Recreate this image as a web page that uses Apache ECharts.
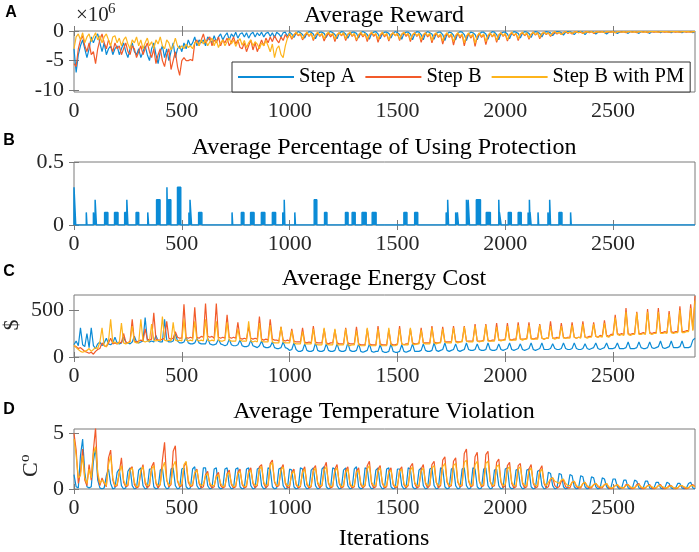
<!DOCTYPE html>
<html>
<head>
<meta charset="utf-8">
<script src="https://cdn.jsdelivr.net/npm/echarts@6/dist/echarts.min.js"></script>
<style>
  html, body { margin: 0; padding: 0; background: #fff; }
  #chart { width: 699px; height: 552px; }
</style>
</head>
<body>
<div id="chart"></div>
<script>
// sampled every 10 iterations, 0..2880
const STEP = 10;
const xTicks = [0, 500, 1000, 1500, 2000, 2500];
const seriesNames = ["Step A", "Step B", "Step B with PM"];
const seriesColors = ["#0b8bd6", "#f25a2a", "#fdb41c"];

// A: average reward (x10^6)
const rewardA = [
  -3, -7, -4, -2.5, -1.5, -3, -4.5, -3, -1, -2,
  -1, -0.5, -2, -3.5, -2, -4, -3, -2.5, -4, -3,
  -2.5, -4, -3, -2, -3.5, -4.5, -3, -2, -3.5, -4,
  -3, -4.5, -3.5, -2.5, -4, -5, -3, -2, -4, -5.5,
  -3.5, -2.5, -4.5, -3, -5, -3.5, -2, -4.5, -3, -2.5,
  -3.5, -2, -3, -1.5, -2.5, -2, -1, -2.5, -1.5, -2,
  -1.5, -2.5, -1, -1.5, -2, -0.8, -1.8, -1, -0.5, -1.5,
  -0.8, -0.3, -1.5, -0.5, -1, -0.2, -1.2, -0.5, -0.3, -1,
  -0.3, -1.2, -0.5, -0.2, -1, -0.3, -0.8, -0.2, -1, -0.4,
  -0.2, -0.9, -0.3, -1.1, -0.2, -0.5, -1, -0.3, -0.2, -0.9,
  -0.2, -0.5, -1.1, -0.4, -0.1, -0.3, -0.6, -1.2, -0.4, -0.1,
  -0.2, -0.5, -1.3, -0.5, -0.2, -0.2, -0.4, -1.1, -0.3, -0.1,
  -0.3, -0.6, -1.3, -0.4, -0.1, -0.2, -0.5, -1.2, -0.5, -0.2,
  -0.2, -0.4, -1.2, -0.3, -0.1, -0.3, -0.6, -1.4, -0.4, -0.2,
  -0.1, -0.5, -1.3, -0.5, -0.2, -0.2, -0.4, -1.2, -0.4, -0.1,
  -0.3, -0.6, -1.4, -0.4, -0.2, -0.2, -0.5, -1.5, -0.5, -0.1,
  -0.2, -0.6, -1.5, -0.4, -0.1, -0.3, -0.5, -1.4, -0.4, -0.2,
  -0.2, -0.6, -1.6, -0.5, -0.2, -0.3, -0.7, -1.5, -0.4, -0.1,
  -0.2, -0.6, -1.6, -0.5, -0.2, -0.3, -0.6, -1.5, -0.5, -0.2,
  -0.2, -0.5, -1.4, -0.4, -0.1, -0.2, -0.6, -1.5, -0.4, -0.2,
  -0.2, -0.5, -1.3, -0.4, -0.1, -0.2, -0.4, -1.2, -0.4, -0.1,
  -0.2, -0.4, -1.1, -0.3, -0.1, -0.2, -0.4, -1, -0.3, -0.1,
  -0.2, -0.3, -0.8, -0.3, -0.1, -0.1, -0.3, -0.7, -0.2, -0.1,
  -0.1, -0.3, -0.6, -0.2, -0.1, -0.1, -0.2, -0.6, -0.2, -0.1,
  -0.1, -0.2, -0.5, -0.2, -0.1, -0.1, -0.2, -0.5, -0.2, -0.1,
  -0.1, -0.2, -0.4, -0.2, -0.1, -0.1, -0.2, -0.4, -0.1, -0.1,
  -0.1, -0.2, -0.4, -0.1, -0.1, -0.1, -0.2, -0.4, -0.1, -0.1,
  -0.1, -0.1, -0.3, -0.1, -0.1, -0.1, -0.2, -0.3, -0.1, -0.1,
  -0.1, -0.2, -0.3, -0.1, -0.1, -0.1, -0.1, -0.3, -0.1
];
const rewardB = [
  -5.5, -6, -3, -1.5, -0.8, -2.5, -3.5, -2, -4, -3.5,
  -5.5, -3, -1.5, -0.5, -2, -3, -1.5, -2.5, -3.5, -2,
  -3, -2.5, -4, -3, -2, -3.5, -4, -2.5, -3, -4.5,
  -3.5, -2.5, -4, -3, -2, -3.5, -4.5, -3, -5.5, -4,
  -3, -5, -6, -4, -3, -6.5, -5, -3.5, -6, -7.5,
  -5, -4.5, -5, -5, -4.8, -5, -2, -1.5, -2.5, -1.5,
  -0.5, -2, -1.5, -1, -2.5, -1.5, -2, -1, -2.5, -1.5,
  -2, -1.2, -2.5, -1.8, -1, -2.2, -1.5, -2.8, -3, -2,
  -3.5, -2.5, -1.5, -3.2, -2, -3.5, -2.5, -1.5, -2.5, -1.2,
  -2, -1, -1.8, -0.8, -1.5, -2, -1, -1.6, -0.6, -1.2,
  -0.5, -1.4, -0.7, -0.3, -0.8, -0.5, -1.5, -0.8, -0.3, -0.9,
  -0.4, -1.6, -0.7, -0.3, -0.9, -0.5, -1.7, -0.8, -0.4, -1,
  -0.5, -1.8, -0.7, -0.3, -0.8, -0.4, -1.6, -0.6, -0.3, -0.9,
  -0.5, -1.7, -0.8, -0.4, -1, -0.5, -1.8, -0.7, -0.3, -0.9,
  -0.5, -1.9, -0.8, -0.3, -1, -0.5, -1.7, -0.7, -0.3, -0.8,
  -0.4, -1.6, -0.6, -0.3, -0.9, -0.5, -1.8, -0.7, -0.3, -0.9,
  -0.5, -1.9, -0.8, -0.3, -1, -0.5, -2, -0.8, -0.4, -1.1,
  -0.6, -2.2, -0.9, -0.4, -1.1, -0.6, -2.4, -0.9, -0.4, -1.2,
  -0.6, -2.5, -1, -0.4, -1.2, -0.6, -2.6, -1, -0.4, -1.1,
  -0.6, -2.3, -0.9, -0.4, -1, -0.5, -1.9, -0.8, -0.3, -0.9,
  -0.5, -1.7, -0.7, -0.3, -0.8, -0.4, -1.6, -0.6, -0.3, -0.8,
  -0.4, -1.4, -0.6, -0.2, -0.7, -0.3, -1.3, -0.5, -0.2, -0.6,
  -0.3, -0.9, -0.4, -0.2, -0.5, -0.2, -0.6, -0.3, -0.1, -0.4,
  -0.2, -0.5, -0.2, -0.1, -0.3, -0.2, -0.4, -0.2, -0.1, -0.3,
  -0.1, -0.4, -0.2, -0.1, -0.2, -0.1, -0.3, -0.2, -0.1, -0.2,
  -0.1, -0.3, -0.1, -0.1, -0.2, -0.1, -0.3, -0.1, -0.1, -0.2,
  -0.1, -0.3, -0.1, -0.1, -0.2, -0.1, -0.3, -0.1, -0.1, -0.2,
  -0.1, -0.2, -0.1, -0.1, -0.2, -0.1, -0.2, -0.1, -0.1, -0.2,
  -0.1, -0.2, -0.1, -0.1, -0.2, -0.1, -0.2, -0.1, -0.1
];
const rewardPM = [
  -3, -1, -0.5, -1.5, -0.3, -2, -1, -0.5, -1.8, -1,
  -0.3, -1.5, -0.8, -2, -1, -0.5, -1.5, -2.5, -1, -0.8,
  -2, -1.2, -2.5, -1.5, -1, -2.2, -3, -1.5, -2, -1,
  -2.5, -1.5, -3, -2, -1.2, -2.5, -1.8, -3, -1.5, -2.2,
  -1, -2.5, -3, -1.5, -2, -3.2, -2.5, -1.2, -2.5, -3,
  -2.5, -3, -2.2, -2.8, -2.5, -3, -2, -1.8, -2.5, -1.5,
  -2.2, -1.5, -2.5, -1.8, -1.2, -2.5, -1.5, -2.8, -2, -1.5,
  -2.5, -1.8, -1.2, -2.2, -1.5, -2.6, -1.8, -1.3, -2.4, -1.6,
  -2.8, -2, -1.5, -2.5, -1.8, -2.2, -3, -2, -2.5, -1.6,
  -2.5, -3.5, -2.2, -4.5, -3, -2.5, -4, -4.5, -2.5, -1.2,
  -0.4, -1.2, -0.6, -0.2, -0.7, -0.4, -1.3, -0.6, -0.2, -0.8,
  -0.4, -1.4, -0.6, -0.2, -0.8, -0.4, -1.3, -0.5, -0.2, -0.7,
  -0.4, -1.4, -0.6, -0.3, -0.7, -0.3, -1.3, -0.5, -0.2, -0.8,
  -0.4, -1.5, -0.6, -0.2, -0.8, -0.4, -1.4, -0.6, -0.2, -0.7,
  -0.4, -1.4, -0.6, -0.2, -0.8, -0.4, -1.5, -0.6, -0.3, -0.8,
  -0.4, -1.4, -0.5, -0.2, -0.7, -0.4, -1.5, -0.6, -0.3, -0.8,
  -0.4, -1.5, -0.6, -0.3, -0.8, -0.4, -1.6, -0.6, -0.3, -0.9,
  -0.5, -1.7, -0.7, -0.3, -0.9, -0.5, -1.8, -0.7, -0.3, -0.9,
  -0.5, -2, -0.8, -0.3, -1, -0.5, -2.1, -0.8, -0.3, -0.9,
  -0.5, -1.8, -0.7, -0.3, -0.9, -0.4, -1.6, -0.6, -0.3, -0.8,
  -0.4, -1.5, -0.6, -0.2, -0.7, -0.4, -1.3, -0.5, -0.2, -0.7,
  -0.3, -1.2, -0.5, -0.2, -0.6, -0.3, -1.1, -0.4, -0.2, -0.5,
  -0.3, -0.8, -0.3, -0.1, -0.4, -0.2, -0.6, -0.3, -0.1, -0.3,
  -0.2, -0.4, -0.2, -0.1, -0.3, -0.1, -0.4, -0.2, -0.1, -0.2,
  -0.1, -0.3, -0.2, -0.1, -0.2, -0.1, -0.3, -0.1, -0.1, -0.2,
  -0.1, -0.3, -0.1, -0.1, -0.2, -0.1, -0.2, -0.1, -0.1, -0.2,
  -0.1, -0.2, -0.1, -0.1, -0.2, -0.1, -0.2, -0.1, -0.1, -0.1,
  -0.1, -0.2, -0.1, -0.1, -0.1, -0.1, -0.2, -0.1, -0.1, -0.1,
  -0.1, -0.2, -0.1, -0.1, -0.1, -0.1, -0.2, -0.1, -0.1
];

// B: protection use (Step A only), pulses [start, end, height]
const protStart = [0, 57, 90, 98, 142, 188, 235, 245, 288, 342, 383, 431, 438, 480, 533, 538, 578,
  733, 776, 819, 869, 920, 968, 975, 1024, 1114, 1162, 1259, 1290, 1336, 1383, 1530, 1580,
  1726, 1733, 1770, 1778, 1820, 1828, 1866, 1912, 1970, 1973, 2014, 2060, 2106, 2112, 2115,
  2152, 2198, 2206, 2249, 2303];
const protEnd = [8, 60, 98, 104, 157, 204, 245, 250, 300, 346, 399, 434, 449, 495, 538, 545, 593,
  736, 788, 835, 885, 935, 975, 978, 1027, 1126, 1173, 1271, 1304, 1355, 1401, 1544, 1594,
  1733, 1737, 1774, 1783, 1826, 1834, 1885, 1931, 1973, 1981, 2028, 2074, 2112, 2115, 2120,
  2155, 2206, 2210, 2263, 2306];
const protHeight = [0.3, 0.1, 0.1, 0.2, 0.1, 0.1, 0.1, 0.2, 0.1, 0.1, 0.2, 0.3, 0.2, 0.3, 0.1, 0.2, 0.1,
  0.1, 0.1, 0.1, 0.1, 0.1, 0.1, 0.2, 0.1, 0.2, 0.1, 0.1, 0.1, 0.1, 0.1, 0.1, 0.1,
  0.1, 0.2, 0.1, 0.1, 0.2, 0.2, 0.2, 0.1, 0.2, 0.1, 0.1, 0.1, 0.1, 0.2, 0.1,
  0.1, 0.1, 0.2, 0.1, 0.1];

// C: average energy cost ($)
const costA = [
  130, 170, 120, 310, 130, 110, 250, 100, 310, 120,
  90, 140, 160, 120, 150, 200, 140, 130, 150, 210,
  150, 140, 150, 210, 160, 150, 140, 160, 220, 160,
  150, 160, 170, 420, 180, 160, 170, 160, 230, 170,
  160, 160, 400, 180, 160, 160, 170, 250, 170, 150,
  150, 160, 210, 150, 140, 140, 150, 200, 150, 140,
  140, 140, 200, 140, 130, 130, 140, 190, 140, 130,
  120, 130, 190, 130, 120, 120, 130, 180, 120, 110,
  110, 120, 180, 120, 110, 100, 120, 170, 110, 100,
  100, 110, 160, 100, 90, 90, 100, 160, 100, 90,
  70, 80, 150, 80, 60, 60, 70, 140, 70, 60,
  60, 70, 150, 70, 60, 60, 70, 140, 70, 60,
  60, 70, 140, 70, 60, 60, 70, 150, 70, 60,
  60, 70, 140, 60, 50, 60, 70, 140, 60, 50,
  60, 60, 130, 60, 50, 50, 60, 140, 60, 50,
  50, 60, 130, 60, 50, 60, 70, 140, 60, 60,
  60, 70, 140, 70, 60, 60, 70, 150, 70, 60,
  70, 80, 150, 70, 60, 70, 80, 140, 70, 60,
  70, 80, 150, 80, 70, 70, 80, 140, 80, 70,
  70, 80, 150, 80, 70, 70, 80, 140, 80, 70,
  80, 90, 150, 80, 70, 80, 90, 140, 80, 70,
  80, 90, 150, 80, 70, 80, 90, 150, 80, 80,
  80, 90, 140, 90, 80, 80, 90, 150, 90, 80,
  80, 90, 150, 90, 80, 80, 90, 140, 90, 80,
  90, 100, 150, 90, 80, 90, 100, 150, 90, 90,
  90, 100, 150, 90, 90, 90, 100, 160, 90, 90,
  90, 100, 160, 100, 90, 90, 100, 160, 100, 90,
  100, 110, 170, 100, 90, 100, 110, 170, 100, 100,
  100, 110, 170, 100, 100, 100, 110, 180, 200
];
const costB = [
  120, 110, 90, 100, 80, 60, 50, 40, 50, 30,
  60, 80, 90, 150, 120, 110, 150, 200, 140, 150,
  140, 160, 150, 250, 160, 150, 170, 400, 170, 160,
  170, 180, 170, 300, 190, 180, 190, 470, 190, 180,
  180, 190, 200, 380, 200, 190, 200, 270, 210, 200,
  200, 560, 210, 200, 210, 200, 530, 210, 200, 220,
  210, 570, 220, 210, 220, 200, 570, 210, 200, 210,
  200, 450, 210, 200, 210, 200, 370, 200, 190, 200,
  190, 320, 200, 190, 200, 190, 430, 190, 180, 190,
  180, 400, 190, 180, 180, 170, 320, 180, 170, 180,
  170, 300, 170, 160, 160, 160, 310, 160, 150, 160,
  150, 330, 160, 150, 150, 150, 300, 150, 140, 150,
  150, 290, 150, 140, 140, 140, 310, 150, 140, 140,
  140, 320, 140, 130, 130, 130, 300, 140, 130, 130,
  130, 330, 140, 130, 130, 130, 290, 140, 130, 130,
  140, 330, 140, 130, 140, 140, 300, 150, 140, 140,
  150, 310, 150, 150, 150, 150, 330, 160, 150, 150,
  160, 320, 160, 160, 160, 160, 330, 170, 160, 160,
  170, 330, 170, 170, 170, 170, 350, 170, 170, 170,
  180, 350, 180, 170, 180, 180, 360, 180, 180, 180,
  190, 360, 190, 180, 190, 190, 370, 190, 190, 190,
  200, 370, 200, 190, 200, 200, 350, 200, 190, 200,
  200, 380, 200, 200, 210, 200, 360, 210, 200, 210,
  210, 370, 210, 200, 210, 210, 380, 210, 210, 220,
  220, 370, 220, 210, 230, 220, 390, 230, 220, 240,
  240, 450, 250, 240, 250, 240, 520, 250, 240, 250,
  250, 480, 250, 250, 260, 250, 510, 260, 250, 260,
  260, 520, 260, 260, 270, 260, 490, 270, 260, 270,
  270, 540, 270, 270, 280, 280, 560, 290, 650
];
const costPM = [
  130, 100, 80, 60, 50, 60, 70, 90, 60, 80,
  100, 90, 160, 310, 120, 110, 170, 400, 150, 160,
  140, 150, 360, 150, 140, 150, 160, 330, 160, 150,
  150, 400, 170, 160, 170, 170, 350, 180, 170, 180,
  170, 430, 180, 170, 180, 170, 370, 180, 170, 180,
  170, 400, 180, 170, 180, 170, 380, 180, 170, 180,
  170, 400, 180, 170, 180, 170, 380, 180, 170, 170,
  180, 370, 180, 170, 170, 170, 300, 180, 170, 170,
  170, 380, 170, 160, 170, 160, 360, 170, 160, 160,
  160, 340, 160, 150, 150, 150, 320, 160, 150, 150,
  150, 280, 150, 140, 140, 140, 270, 140, 140, 140,
  140, 300, 140, 130, 130, 130, 310, 140, 130, 130,
  130, 300, 130, 130, 130, 130, 300, 130, 120, 130,
  130, 280, 130, 120, 120, 120, 310, 130, 120, 120,
  120, 300, 130, 120, 120, 120, 310, 130, 120, 120,
  130, 300, 140, 130, 130, 130, 310, 140, 130, 140,
  140, 290, 150, 140, 140, 140, 310, 150, 140, 150,
  150, 300, 160, 150, 150, 150, 310, 160, 150, 160,
  160, 320, 170, 160, 160, 160, 330, 170, 160, 170,
  170, 340, 170, 170, 170, 170, 320, 180, 170, 180,
  180, 330, 180, 180, 180, 180, 340, 190, 180, 190,
  190, 340, 190, 190, 190, 190, 340, 200, 190, 200,
  200, 330, 200, 190, 200, 200, 330, 200, 200, 200,
  200, 340, 210, 200, 210, 200, 350, 210, 200, 210,
  210, 350, 220, 210, 220, 210, 360, 220, 210, 230,
  230, 420, 240, 230, 240, 230, 480, 240, 230, 240,
  240, 470, 240, 240, 250, 240, 480, 250, 240, 250,
  250, 480, 250, 250, 260, 250, 460, 260, 250, 260,
  260, 500, 260, 260, 270, 270, 520, 280, 600
];

// D: average temperature violation (C°)
const violA = [
  1.3, 0.2, 0.1, 3, 4.5, 1.5, 0.2, 0.1, 0.2, 2.5,
  3.7, 0.8, 0.1, 0, 0.1, 1.2, 1.8, 0.5, 0, 0.1,
  1.5, 1.8, 0.3, 0, 0.1, 1.6, 1.9, 0.3, 0, 0.1,
  1.7, 1.9, 0.3, 0, 0.1, 1.8, 1.8, 0.2, 0, 0.1,
  1.7, 1.9, 0.3, 0, 0.1, 1.8, 1.9, 0.3, 0, 0.1,
  1.8, 1.9, 0.2, 0, 0.1, 1.8, 2, 0.3, 0, 0.1,
  1.9, 1.9, 0.3, 0, 0.1, 1.8, 1.9, 0.2, 0, 0.1,
  1.8, 1.9, 0.3, 0, 0.1, 1.8, 1.9, 0.2, 0, 0.1,
  1.8, 1.9, 0.3, 0, 0.1, 1.8, 1.9, 0.3, 0, 0.1,
  1.9, 1.8, 0.2, 0, 0.1, 1.8, 1.9, 0.3, 0, 0.1,
  1.8, 1.7, 0.2, 0, 0.1, 1.9, 1.8, 0.3, 0, 0.1,
  1.7, 1.9, 0.3, 0, 0.1, 1.8, 2, 0.2, 0, 0.1,
  1.9, 1.8, 0.3, 0, 0.1, 1.7, 1.9, 0.3, 0, 0.1,
  1.8, 2, 0.2, 0, 0.1, 1.9, 1.8, 0.3, 0, 0.1,
  1.7, 1.9, 0.3, 0, 0.1, 1.8, 1.9, 0.2, 0, 0.1,
  1.8, 1.8, 0.3, 0, 0.1, 1.9, 1.8, 0.2, 0, 0.1,
  1.7, 1.9, 0.3, 0, 0.1, 1.8, 1.9, 0.3, 0, 0.1,
  1.9, 1.8, 0.2, 0, 0.1, 1.8, 1.9, 0.3, 0, 0.1,
  1.8, 1.9, 0.3, 0, 0.1, 1.9, 1.8, 0.2, 0, 0.1,
  1.8, 1.9, 0.3, 0, 0.1, 1.7, 1.8, 0.3, 0, 0.1,
  1.8, 1.9, 0.2, 0, 0.1, 1.7, 1.8, 0.3, 0, 0.1,
  1.7, 1.8, 0.2, 0, 0.1, 1.6, 1.7, 0.3, 0, 0.1,
  1.5, 1.4, 0.3, 0, 0.1, 1.4, 1.3, 0.2, 0, 0.1,
  1.3, 1.2, 0.2, 0, 0.1, 1.2, 1.1, 0.2, 0, 0.1,
  1.1, 1, 0.2, 0, 0.1, 1, 0.9, 0.2, 0, 0.1,
  0.9, 0.9, 0.2, 0, 0.1, 0.8, 0.8, 0.1, 0, 0.1,
  0.8, 0.7, 0.1, 0, 0.1, 0.7, 0.7, 0.1, 0, 0.1,
  0.6, 0.6, 0.1, 0, 0.1, 0.6, 0.5, 0.1, 0, 0.1,
  0.5, 0.5, 0.1, 0, 0.1, 0.5, 0.6, 0.1, 0
];
const violB = [
  5, 3.5, 0.5, 1.5, 3.6, 0.8, 0.3, 2.2, 0.8, 3.5,
  5.5, 1.2, 0.3, 1, 0.5, 0.2, 2.8, 3.5, 0.8, 0.2,
  0.3, 1.5, 2.8, 0.6, 0.2, 0.3, 1.8, 2, 0.4, 0.1,
  0.2, 1.5, 2.2, 0.5, 0.1, 0.3, 2, 2.4, 0.5, 0.1,
  0.4, 2.6, 4.2, 0.8, 0.2, 0.4, 3.4, 3.9, 0.7, 0.2,
  0.3, 2, 2.4, 0.6, 0.2, 0.3, 1.4, 1.8, 0.5, 0.1,
  0.2, 1.3, 1.6, 0.4, 0.1, 0.2, 1.2, 1.5, 0.3, 0.1,
  0.2, 1.4, 1.7, 0.4, 0.1, 0.2, 1.5, 1.8, 0.4, 0.1,
  0.2, 1.6, 1.9, 0.5, 0.1, 0.3, 2, 2.2, 0.5, 0.1,
  0.3, 2.3, 2.6, 0.6, 0.2, 0.3, 1.8, 2.2, 0.5, 0.1,
  0.2, 1.5, 1.8, 0.4, 0.1, 0.2, 1.6, 2, 0.4, 0.1,
  0.2, 1.8, 2.1, 0.5, 0.1, 0.3, 1.9, 2.4, 0.5, 0.1,
  0.2, 1.8, 2.2, 0.5, 0.1, 0.2, 1.7, 2, 0.4, 0.1,
  0.2, 1.6, 1.9, 0.4, 0.1, 0.3, 2.1, 2.5, 0.5, 0.1,
  0.2, 1.8, 2.1, 0.5, 0.1, 0.2, 1.6, 1.9, 0.4, 0.1,
  0.2, 1.7, 2, 0.4, 0.1, 0.3, 2, 2.3, 0.5, 0.1,
  0.2, 1.8, 2.2, 0.5, 0.1, 0.3, 2.2, 2.5, 0.6, 0.1,
  0.3, 2.6, 2.9, 0.6, 0.2, 0.3, 2.5, 2.8, 0.6, 0.2,
  0.3, 3.2, 3.6, 0.7, 0.2, 0.3, 2.9, 3.3, 0.7, 0.2,
  0.3, 3.1, 3.4, 0.7, 0.2, 0.3, 2.4, 2.7, 0.6, 0.1,
  0.3, 2.1, 2.4, 0.5, 0.1, 0.2, 2.1, 2.3, 0.5, 0.1,
  0.2, 1.8, 2.2, 0.5, 0.1, 0.2, 1.7, 2.1, 0.5, 0.1,
  0.2, 0.9, 1, 0.3, 0.1, 0.2, 0.7, 0.8, 0.2, 0.1,
  0.1, 0.6, 0.7, 0.2, 0.1, 0.1, 0.5, 0.6, 0.2, 0.1,
  0.1, 0.4, 0.5, 0.2, 0.1, 0.1, 0.4, 0.5, 0.1, 0,
  0.1, 0.3, 0.4, 0.1, 0.1, 0.1, 0.4, 0.4, 0.1, 0,
  0.1, 0.4, 0.5, 0.1, 0, 0.1, 0.3, 0.4, 0.1, 0,
  0.1, 0.3, 0.4, 0.1, 0, 0.1, 0.3, 0.3, 0.1, 0,
  0.1, 0.3, 0.3, 0.1, 0, 0.1, 0.3, 0.4, 0.2
];
const violPM = [
  4.5, 3, 1, 1.2, 3, 1, 0.5, 1.8, 1, 3.2,
  3.8, 1.5, 0.5, 0.8, 0.6, 0.3, 2.2, 3, 1, 0.3,
  0.4, 1.5, 2.1, 0.8, 0.3, 0.4, 1.7, 1.9, 0.6, 0.2,
  0.3, 1.7, 2, 0.7, 0.3, 0.4, 1.8, 2.1, 0.6, 0.3,
  0.4, 1.9, 2.4, 0.8, 0.3, 0.5, 2.1, 2.5, 0.8, 0.3,
  0.4, 2.2, 2.5, 0.8, 0.3, 0.4, 1.5, 1.7, 0.6, 0.3,
  0.4, 1.2, 1.4, 0.5, 0.3, 0.3, 1.1, 1.3, 0.5, 0.2,
  0.3, 1.3, 1.5, 0.5, 0.2, 0.3, 1.4, 1.6, 0.5, 0.2,
  0.3, 1.5, 1.7, 0.6, 0.3, 0.4, 1.8, 2, 0.6, 0.3,
  0.4, 2.1, 2.4, 0.7, 0.3, 0.4, 1.7, 2, 0.6, 0.3,
  0.3, 1.4, 1.6, 0.5, 0.2, 0.3, 1.5, 1.8, 0.5, 0.2,
  0.3, 1.6, 1.9, 0.6, 0.3, 0.3, 1.7, 2, 0.6, 0.2,
  0.3, 1.6, 1.9, 0.6, 0.2, 0.3, 1.5, 1.8, 0.5, 0.2,
  0.3, 1.5, 1.7, 0.5, 0.2, 0.4, 1.8, 2.1, 0.6, 0.3,
  0.3, 1.6, 1.9, 0.6, 0.2, 0.3, 1.5, 1.7, 0.5, 0.2,
  0.3, 1.6, 1.8, 0.5, 0.2, 0.4, 1.7, 2, 0.6, 0.3,
  0.3, 1.6, 1.9, 0.6, 0.3, 0.4, 1.9, 2.1, 0.6, 0.3,
  0.4, 2, 2.3, 0.7, 0.3, 0.4, 2.1, 2.3, 0.7, 0.3,
  0.4, 2.4, 2.6, 0.8, 0.3, 0.4, 2.2, 2.5, 0.7, 0.3,
  0.4, 2.3, 2.5, 0.7, 0.3, 0.4, 2, 2.2, 0.7, 0.3,
  0.4, 1.8, 2, 0.6, 0.3, 0.3, 1.8, 2, 0.6, 0.3,
  0.3, 1.6, 1.9, 0.6, 0.3, 0.3, 1.5, 1.8, 0.6, 0.3,
  0.6, 0.9, 1, 0.7, 0.6, 0.5, 0.8, 0.9, 0.5, 0.3,
  0.3, 0.6, 0.7, 0.3, 0.2, 0.2, 0.5, 0.6, 0.3, 0.2,
  0.2, 0.4, 0.5, 0.3, 0.2, 0.2, 0.4, 0.5, 0.2, 0.1,
  0.1, 0.3, 0.4, 0.2, 0.1, 0.1, 0.3, 0.4, 0.2, 0.1,
  0.1, 0.3, 0.4, 0.2, 0.1, 0.1, 0.3, 0.3, 0.2, 0.1,
  0.1, 0.3, 0.3, 0.2, 0.1, 0.1, 0.2, 0.3, 0.1, 0.1,
  0.1, 0.3, 0.3, 0.2, 0.1, 0.1, 0.3, 0.3, 0.2
];

(() => {
    const serif = "Liberation Serif";
    const boxColor = "#7a7a7a";
    const labelColor = "#262626";
    const xMax = 2880;

    const panels = [
        { top: 31, height: 61, min: -10.3, max: 0, yTicks: [-10, -5, 0] },
        { top: 162, height: 63, min: 0, max: 0.5, yTicks: [0, 0.5] },
        { top: 295, height: 62, min: 0, max: 660, yTicks: [0, 500] },
        { top: 429, height: 60, min: 0, max: 5.4, yTicks: [0, 5] }
    ];

    const toPoints = (values) => values.map((v, i) => [i * STEP, v]);

    const pulsePoints = () => {
        const pts = [];
        for (let k = 0; k < protStart.length; k++) {
            pts.push([protStart[k], 0], [protStart[k], protHeight[k]],
                [protEnd[k], protHeight[k]], [protEnd[k], 0]);
        }
        pts.push([xMax, 0]);
        return pts;
    };

    const plainNumber = (v) => String(v);

    const grid = [];
    const xAxis = [];
    const yAxis = [];
    panels.forEach((p, i) => {
        grid.push({
            left: 74, right: 4, top: p.top, height: p.height,
            show: true, borderColor: boxColor, borderWidth: 1,
            backgroundColor: "transparent"
        });
        for (const pos of ["bottom", "top"]) {
            xAxis.push({
                type: "value", gridIndex: i, position: pos, min: 0, max: xMax,
                axisLine: { show: false },
                splitLine: { show: false },
                axisTick: { show: true, inside: true, length: 5, customValues: xTicks,
                    lineStyle: { color: boxColor } },
                axisLabel: {
                    show: pos === "bottom", customValues: xTicks, margin: 8,
                    formatter: plainNumber,
                    fontFamily: serif, fontSize: 22, color: labelColor
                }
            });
        }
        for (const pos of ["left", "right"]) {
            yAxis.push({
                type: "value", gridIndex: i, position: pos, min: p.min, max: p.max,
                axisLine: { show: false },
                splitLine: { show: false },
                axisTick: { show: true, inside: true, length: 5, customValues: p.yTicks,
                    lineStyle: { color: boxColor } },
                axisLabel: {
                    show: pos === "left", customValues: p.yTicks, margin: 10,
                    formatter: plainNumber,
                    fontFamily: serif, fontSize: 22, color: labelColor
                }
            });
        }
    });

    const series = [];
    const addLines = (panel, sets) => {
        sets.forEach((values, k) => {
            series.push({
                name: seriesNames[k], type: "line",
                xAxisIndex: panel * 2, yAxisIndex: panel * 2,
                data: toPoints(values),
                showSymbol: false, animation: false,
                color: seriesColors[k],
                lineStyle: { width: 1.2, color: seriesColors[k] }
            });
        });
    };
    addLines(0, [rewardA, rewardB, rewardPM]);
    series.push({
        name: seriesNames[0], type: "line", xAxisIndex: 2, yAxisIndex: 2,
        data: pulsePoints(), showSymbol: false, animation: false,
        color: seriesColors[0],
        lineStyle: { width: 1.5, color: seriesColors[0] },
        areaStyle: { color: seriesColors[0], opacity: 1 }
    });
    addLines(2, [costA, costB, costPM]);
    addLines(3, [violA, violB, violPM]);

    const text = (x, y, str, font, extra) => ({
        type: "text", x, y, z: 10,
        style: Object.assign({
            text: str, font, fill: "#000",
            textAlign: "center", textVerticalAlign: "middle"
        }, extra || {})
    });

    const titleFont = `24px "${serif}"`;
    const letterFont = `bold 16px "Liberation Sans"`;
    const graphic = [
        text(384, 16, "Average Reward", titleFont),
        text(384, 148, "Average Percentage of Using Protection", titleFont),
        text(384, 279, "Average Energy Cost", titleFont),
        text(384, 412, "Average Temperature Violation", titleFont),
        text(384, 539, "Iterations", titleFont),
        text(11, 13, "A", letterFont),
        text(9, 141, "B", letterFont),
        text(9, 272, "C", letterFont),
        text(9, 410, "D", letterFont),
        text(76, 26, "\u00d710", `21px "${serif}"`, { textAlign: "left", textVerticalAlign: "bottom", fill: labelColor }),
        text(108, 17, "6", `15px "${serif}"`, { textAlign: "left", textVerticalAlign: "bottom", fill: labelColor }),
        Object.assign(text(12, 325, "$", `22px "${serif}"`, { fill: labelColor }), { rotation: Math.PI / 2 }),
        {
            type: "group", x: 42, y: 477, rotation: Math.PI / 2,
            children: [
                text(0, 0, "C", `22px "${serif}"`, { textAlign: "left", textVerticalAlign: "bottom", fill: labelColor }),
                text(15, -9, "o", `15px "${serif}"`, { textAlign: "left", textVerticalAlign: "bottom", fill: labelColor })
            ]
        }
    ];

    const chart = echarts.init(document.getElementById("chart"), null, { renderer: "canvas" });
    chart.setOption({
        animation: false,
        backgroundColor: "#fff",
        grid, xAxis, yAxis, series, graphic,
        legend: {
            data: seriesNames,
            left: 232, top: 62,
            orient: "horizontal",
            padding: [4, 6],
            itemGap: 10,
            itemWidth: 56, itemHeight: 2,
            icon: "rect",
            backgroundColor: "#fff",
            borderColor: "#333", borderWidth: 1,
            textStyle: { fontFamily: serif, fontSize: 20.5, color: "#000", lineHeight: 22 },
            selectedMode: false
        }
    });
})();
</script>
</body>
</html>
